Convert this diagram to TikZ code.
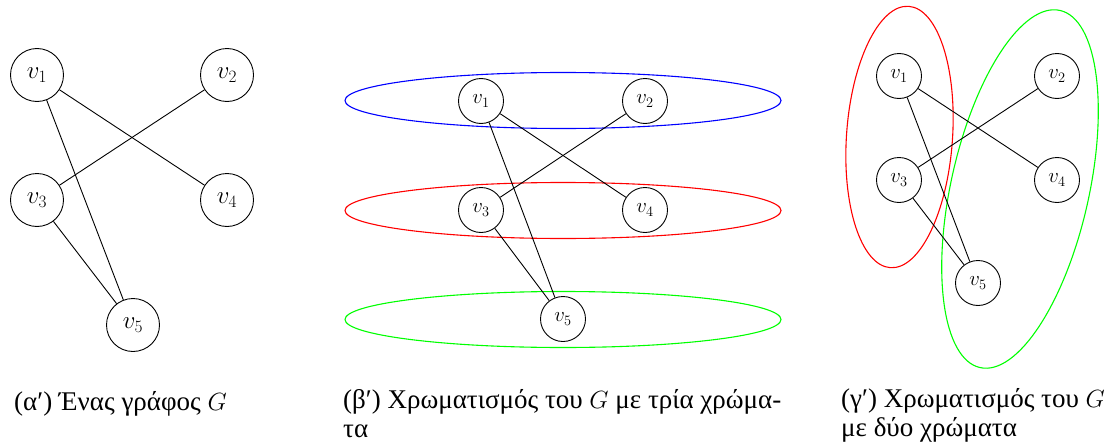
\documentclass[tikz,border=0pt]{standalone}
\usepackage{fontspec}
\newfontfamily\greekfont{Liberation Serif}
\usetikzlibrary{shapes.geometric}
\tikzset{
  vtxA/.style={circle,draw,line width=0.9pt,minimum size=53pt,inner sep=0pt,font=\fontsize{27}{31}\selectfont},
  vtxB/.style={circle,draw,line width=0.9pt,minimum size=45pt,inner sep=0pt,font=\fontsize{21}{25}\selectfont},
  edge/.style={line width=0.9pt},
  grp/.style={line width=1.1pt},
  capt/.style={anchor=base west,align=left,inner sep=0pt,font=\greekfont\fontsize{27}{29}\selectfont}
}
\begin{document}
\begin{tikzpicture}[x=1pt,y=1pt]
\useasboundingbox (0,0) rectangle (1106,-447);
% (a)
\node[vtxA] (a1) at (37,-75) {$v_1$};
\node[vtxA] (a2) at (227,-75) {$v_2$};
\node[vtxA] (a3) at (37,-200) {$v_3$};
\node[vtxA] (a4) at (227,-200) {$v_4$};
\node[vtxA] (a5) at (133,-325) {$v_5$};
\draw[edge] (a1) -- (a4);
\draw[edge] (a1) -- (a5);
\draw[edge] (a2) -- (a3);
\draw[edge] (a3) -- (a5);
% (b)
\draw[grp,blue] (563,-100.5) ellipse [x radius=218,y radius=28];
\draw[grp,red] (563,-210.5) ellipse [x radius=218,y radius=28];
\draw[grp,green] (563,-319.5) ellipse [x radius=218,y radius=28];
\node[vtxB] (b1) at (481,-101) {$v_1$};
\node[vtxB] (b2) at (645,-101) {$v_2$};
\node[vtxB] (b3) at (481,-210) {$v_3$};
\node[vtxB] (b4) at (645,-210) {$v_4$};
\node[vtxB] (b5) at (563,-319) {$v_5$};
\draw[edge] (b1) -- (b4);
\draw[edge] (b1) -- (b5);
\draw[edge] (b2) -- (b3);
\draw[edge] (b3) -- (b5);
% (c)
\draw[grp,red] (899.5,-137) ellipse [x radius=53,y radius=131,rotate=-4];
\draw[grp,green] (1020,-189) ellipse [x radius=69,y radius=183,rotate=-12.6];
\node[vtxB] (c1) at (899,-76) {$v_1$};
\node[vtxB] (c2) at (1057,-76) {$v_2$};
\node[vtxB] (c3) at (899,-180) {$v_3$};
\node[vtxB] (c4) at (1057,-180) {$v_4$};
\node[vtxB] (c5) at (978,-283) {$v_5$};
\draw[edge] (c1) -- (c4);
\draw[edge] (c1) -- (c5);
\draw[edge] (c2) -- (c3);
\draw[edge] (c3) -- (c5);
% captions
\node[capt] (ca) at (14,-410) {(α′) Ένας γράφος $G$};
\node[capt] (cb) at (343,-437) {(β′) Χρωματισμός του $G$ με τρία χρώμα-\\τα};
\node[capt] (cc) at (841,-436) {(γ′) Χρωματισμός του $G$\\με δύο χρώματα};
\end{tikzpicture}
\end{document}
